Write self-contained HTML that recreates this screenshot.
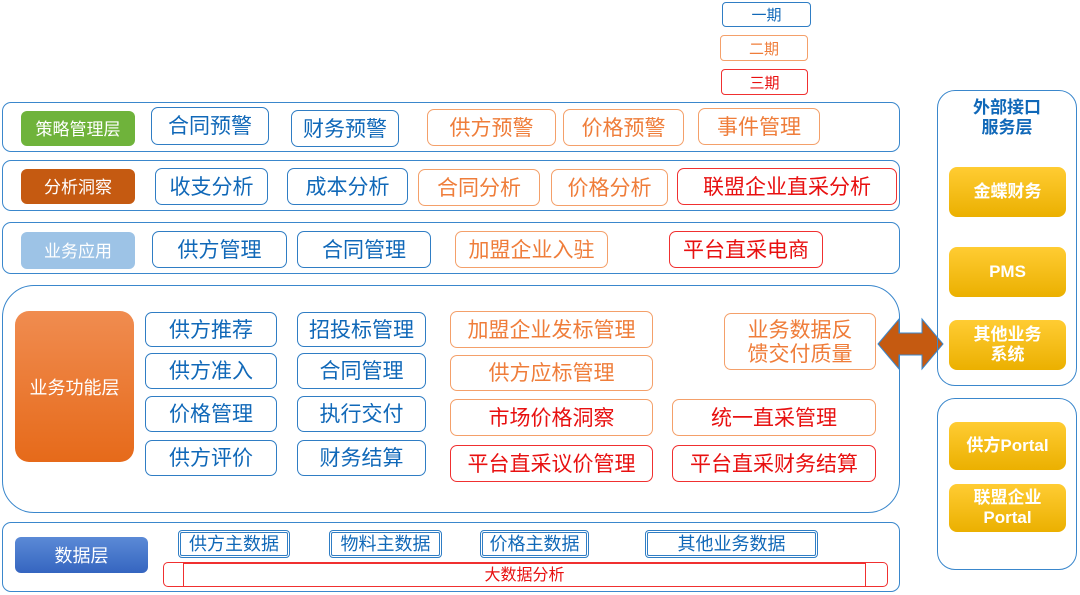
<!DOCTYPE html>
<html><head><meta charset="utf-8"><style>
*{margin:0;padding:0;box-sizing:border-box}
body{width:1080px;height:595px;background:#fff;position:relative;overflow:hidden;font-family:"Liberation Sans","Noto Sans CJK SC",sans-serif}
.b{position:absolute;display:flex;align-items:center;justify-content:center;text-align:center;border-radius:7px;line-height:1.15;padding-top:3px}
.c{position:absolute;border:1.5px solid #3a87cc;border-radius:9px}
.bl{border:1.5px solid #2f7dc4;color:#1068b8;font-size:21px;background:#fff}
.or{border:1.5px solid #f4a06a;color:#ef7d3a;font-size:21px;background:#fff}
.rd{border:1.5px solid #f03030;color:#e81010;font-size:21px;background:#fff}
.ro{border:1.5px solid #f4a06a;color:#e81010;font-size:21px;background:#fff}
.lab{color:#fff;font-size:17px;border-radius:6px}
.gold{background:linear-gradient(#ffcc33,#ebb000);color:#fff;font-weight:bold;font-size:17px;border-radius:8px;padding-top:0}
.db{border:3px double #2f7dc4;color:#1068b8;font-size:18px;border-radius:4px}
</style></head><body>
<div class="b bl" style="left:722px;top:2px;width:89px;height:25px;font-size:15px;border-radius:4px">一期</div>
<div class="b or" style="left:720px;top:35px;width:88px;height:26px;font-size:15px;border-radius:4px">二期</div>
<div class="b rd" style="left:721px;top:69px;width:87px;height:26px;font-size:15px;border-radius:4px">三期</div>

<div class="c" style="left:2px;top:102px;width:898px;height:50px"></div>
<div class="b lab" style="left:21px;top:111px;width:114px;height:35px;background:#6fb33b">策略管理层</div>
<div class="b bl" style="left:151px;top:107px;width:118px;height:38px">合同预警</div>
<div class="b bl" style="left:291px;top:110px;width:108px;height:37px">财务预警</div>
<div class="b or" style="left:427px;top:109px;width:129px;height:37px">供方预警</div>
<div class="b or" style="left:563px;top:109px;width:121px;height:37px">价格预警</div>
<div class="b or" style="left:698px;top:108px;width:122px;height:37px">事件管理</div>

<div class="c" style="left:2px;top:160px;width:898px;height:51px"></div>
<div class="b lab" style="left:21px;top:169px;width:114px;height:35px;background:#c55a11">分析洞察</div>
<div class="b bl" style="left:155px;top:168px;width:113px;height:37px">收支分析</div>
<div class="b bl" style="left:287px;top:168px;width:121px;height:37px">成本分析</div>
<div class="b or" style="left:418px;top:169px;width:122px;height:37px">合同分析</div>
<div class="b or" style="left:551px;top:169px;width:117px;height:37px">价格分析</div>
<div class="b rd" style="left:677px;top:168px;width:220px;height:37px">联盟企业直采分析</div>

<div class="c" style="left:2px;top:222px;width:898px;height:52px"></div>
<div class="b lab" style="left:21px;top:232px;width:114px;height:37px;background:#9dc3e6">业务应用</div>
<div class="b bl" style="left:152px;top:231px;width:135px;height:37px">供方管理</div>
<div class="b bl" style="left:297px;top:231px;width:134px;height:37px">合同管理</div>
<div class="b or" style="left:455px;top:231px;width:153px;height:37px">加盟企业入驻</div>
<div class="b rd" style="left:669px;top:231px;width:154px;height:37px">平台直采电商</div>

<div class="c" style="left:2px;top:285px;width:898px;height:228px;border-radius:32px"></div>
<div class="b lab" style="left:15px;top:311px;width:119px;height:151px;background:linear-gradient(#f08c50,#e66a1a);border-radius:14px;font-size:18px">业务功能层</div>
<div class="b bl" style="left:145px;top:312px;width:132px;height:35px">供方推荐</div>
<div class="b bl" style="left:145px;top:353px;width:132px;height:36px">供方准入</div>
<div class="b bl" style="left:145px;top:396px;width:132px;height:36px">价格管理</div>
<div class="b bl" style="left:145px;top:440px;width:132px;height:36px">供方评价</div>
<div class="b bl" style="left:297px;top:312px;width:129px;height:35px">招投标管理</div>
<div class="b bl" style="left:297px;top:353px;width:129px;height:36px">合同管理</div>
<div class="b bl" style="left:297px;top:396px;width:129px;height:36px">执行交付</div>
<div class="b bl" style="left:297px;top:440px;width:129px;height:36px">财务结算</div>
<div class="b or" style="left:450px;top:311px;width:203px;height:37px">加盟企业发标管理</div>
<div class="b or" style="left:450px;top:355px;width:203px;height:36px">供方应标管理</div>
<div class="b ro" style="left:450px;top:399px;width:203px;height:37px">市场价格洞察</div>
<div class="b rd" style="left:450px;top:445px;width:203px;height:37px">平台直采议价管理</div>
<div class="b or" style="left:724px;top:313px;width:152px;height:57px">业务数据反<br>馈交付质量</div>
<div class="b ro" style="left:672px;top:399px;width:204px;height:37px">统一直采管理</div>
<div class="b rd" style="left:672px;top:445px;width:204px;height:37px">平台直采财务结算</div>

<svg style="position:absolute;left:876px;top:316px" width="70" height="58"><polygon points="2,28 23,3 23,17 46,17 46,3 67,28 46,53 46,39 23,39 23,53" fill="#c55a11" stroke="#3a87cc" stroke-width="1"/></svg>

<div class="c" style="left:2px;top:522px;width:898px;height:70px"></div>
<div class="b lab" style="left:15px;top:537px;width:133px;height:36px;background:linear-gradient(#5b8ad6,#3565c0);font-size:18px">数据层</div>
<div class="b db" style="left:178px;top:530px;width:112px;height:28px;padding-top:0">供方主数据</div>
<div class="b db" style="left:329px;top:530px;width:113px;height:28px;padding-top:0">物料主数据</div>
<div class="b db" style="left:480px;top:530px;width:109px;height:28px;padding-top:0">价格主数据</div>
<div class="b db" style="left:645px;top:530px;width:173px;height:28px;padding-top:0">其他业务数据</div>
<div style="position:absolute;left:163px;top:562px;width:725px;height:25px;border:1.5px solid #f03030;border-radius:5px"></div>
<div class="b" style="left:183px;top:563px;width:683px;height:24px;border:1.5px solid #f03030;border-radius:0;color:#e81010;font-size:16px">大数据分析</div>

<div class="c" style="left:937px;top:90px;width:140px;height:296px;border-radius:18px"></div>
<div class="b" style="left:937px;top:94px;width:140px;height:48px;color:#1068b8;font-weight:bold;font-size:17px;padding-top:0">外部接口<br>服务层</div>
<div class="b gold" style="left:949px;top:167px;width:117px;height:50px">金蝶财务</div>
<div class="b gold" style="left:949px;top:247px;width:117px;height:50px">PMS</div>
<div class="b gold" style="left:949px;top:320px;width:117px;height:50px">其他业务<br>系统</div>

<div class="c" style="left:937px;top:398px;width:140px;height:172px;border-radius:18px"></div>
<div class="b gold" style="left:949px;top:422px;width:117px;height:48px">供方Portal</div>
<div class="b gold" style="left:949px;top:484px;width:117px;height:48px">联盟企业<br>Portal</div>
</body></html>
